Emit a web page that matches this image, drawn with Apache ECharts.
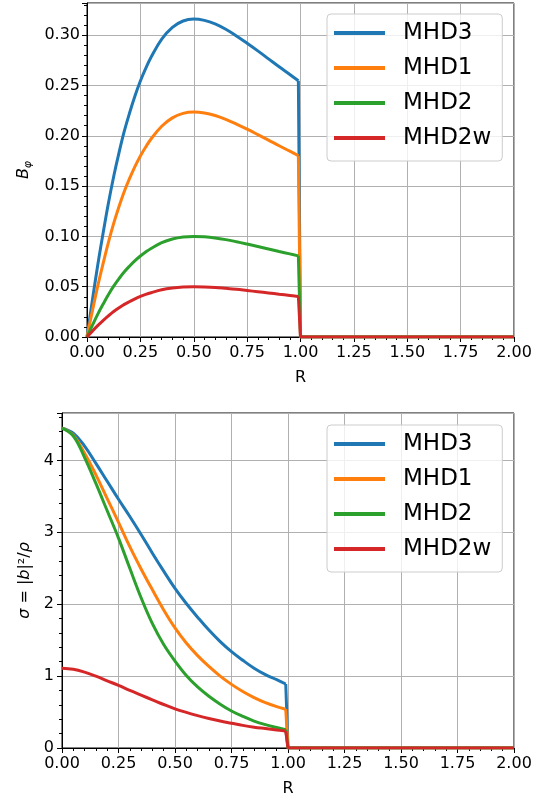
<!DOCTYPE html>
<html>
<head>
<meta charset="utf-8">
<script src="https://cdn.jsdelivr.net/npm/echarts@6/dist/echarts.min.js"></script>
<style>
html,body{margin:0;padding:0;background:#fff;}
#chart{width:548px;height:800px;}
</style>
</head>
<body>
<div id="chart"></div>
<script>
// radius samples, top panel (B_phi)
var rTop = [0,0.025,0.05,0.075,0.1,0.125,0.15,0.175,0.2,0.225,0.25,0.275,0.3,0.35,0.4,0.45,0.5,0.55,0.6,0.65,0.7,0.75,0.8,0.85,0.9,0.95,0.99,1.0,2.0];
var bMHD3 = [0,0.0363,0.0711,0.1027,0.1327,0.1596,0.1833,0.2048,0.2231,0.2398,0.2544,0.267,0.2781,0.2961,0.3078,0.3141,0.316,0.3147,0.3113,0.3059,0.2993,0.292,0.2844,0.2765,0.2686,0.261,0.2547,0,0];
var bMHD1 = [0,0.0257,0.0503,0.0727,0.0939,0.1129,0.1297,0.1449,0.1579,0.1697,0.18,0.1889,0.1968,0.2095,0.2178,0.2223,0.2236,0.2227,0.2202,0.2164,0.2117,0.2066,0.2012,0.1957,0.1901,0.1847,0.1802,0,0];
var bMHD2 = [0,0.0115,0.0225,0.0325,0.042,0.0505,0.058,0.0648,0.0706,0.0759,0.0805,0.0845,0.088,0.0937,0.0974,0.0994,0.1,0.0996,0.0985,0.0968,0.0947,0.0924,0.09,0.0875,0.085,0.0826,0.0806,0,0];
var bMHD2w = [0,0.0058,0.0113,0.0163,0.021,0.0253,0.029,0.0324,0.0353,0.038,0.0403,0.0423,0.044,0.0469,0.0487,0.0497,0.05,0.0498,0.0493,0.0484,0.0474,0.0462,0.045,0.0438,0.0425,0.0413,0.0403,0,0];

// radius samples, bottom panel (sigma)
var rBot = [0,0.05,0.1,0.15,0.2,0.25,0.3,0.35,0.4,0.45,0.5,0.55,0.6,0.65,0.7,0.75,0.8,0.85,0.9,0.95,0.99,1.0,2.0];
var sMHD3 = [4.45,4.38,4.2,3.96,3.71,3.46,3.22,2.97,2.71,2.46,2.22,2.01,1.82,1.64,1.48,1.34,1.22,1.11,1.02,0.95,0.89,0,0];
var sMHD1 = [4.45,4.35,4.1,3.8,3.47,3.14,2.8,2.49,2.2,1.92,1.67,1.46,1.285,1.135,1.0,0.885,0.785,0.7,0.63,0.575,0.54,0,0];
var sMHD2 = [4.45,4.34,4.04,3.68,3.3,2.92,2.5,2.09,1.73,1.44,1.21,1.01,0.85,0.72,0.61,0.515,0.44,0.375,0.325,0.285,0.255,0,0];
var sMHD2w = [1.11,1.095,1.055,1.0,0.935,0.87,0.8,0.735,0.67,0.605,0.545,0.495,0.45,0.41,0.375,0.345,0.315,0.29,0.27,0.25,0.235,0,0];

var names = ['MHD3','MHD1','MHD2','MHD2w'];
var colors = ['#1f77b4','#ff7f0e','#2ca02c','#d62728'];
var xTicks = ['0.00','0.25','0.50','0.75','1.00','1.25','1.50','1.75','2.00'];

var font = 'DejaVu Sans';

function pairs(xs, ys){
	var out = [];
	for(var i=0;i<xs.length;i++){
		out.push([xs[i], ys[i]]);
	}
	return out;
}

function xAxisFor(idx){
	return {
		type:'value', gridIndex:idx, min:0, max:2, interval:0.25,
		name:'R', nameLocation:'middle', nameGap:33,
		nameTextStyle:{fontFamily:font, fontSize:16, color:'#000'},
		axisLine:{show:true, onZero:false, lineStyle:{color:'#000', width:1}},
		axisTick:{show:true, length:5, lineStyle:{color:'#000'}},
		minorTick:{show:true, splitNumber:5, length:3, lineStyle:{color:'#000'}},
		axisLabel:{fontFamily:font, fontSize:16, color:'#000', margin:8,
			formatter:function(v){ return xTicks[Math.round(v/0.25)]; }},
		splitLine:{show:true, lineStyle:{color:'#b0b0b0', width:1}}
	};
}

// each profile: smooth body up to the edge, then a straight drop + flat tail (same name -> one legend entry)
var series = [];
function addProfile(axisIdx, xs, ys, k){
	var n = xs.length;
	series.push({
		name:names[k], type:'line', xAxisIndex:axisIdx, yAxisIndex:axisIdx,
		data:pairs(xs.slice(0, n-2), ys.slice(0, n-2)), smooth:0.4, showSymbol:false, symbol:'none',
		lineStyle:{color:colors[k], width:3}, itemStyle:{color:colors[k]}
	});
	series.push({
		name:names[k], type:'line', xAxisIndex:axisIdx, yAxisIndex:axisIdx,
		data:pairs(xs.slice(n-3), ys.slice(n-3)), showSymbol:false, symbol:'none',
		lineStyle:{color:colors[k], width:3}, itemStyle:{color:colors[k]}
	});
}
var topData = [bMHD3, bMHD1, bMHD2, bMHD2w];
var botData = [sMHD3, sMHD1, sMHD2, sMHD2w];
for(var k=0;k<4;k++){
	addProfile(0, rTop, topData[k], k);
}
for(var k=0;k<4;k++){
	addProfile(1, rBot, botData[k], k);
}

function legendAt(top){
	return {
		orient:'vertical', left:327, top:top,
		data:names, icon:'rect', itemWidth:51, itemHeight:4, itemGap:7,
		padding:[5,11,9,7],
		backgroundColor:'rgba(255,255,255,0.8)', borderColor:'#cccccc', borderWidth:1, borderRadius:4,
		selectedMode:false,
		textStyle:{fontFamily:font, fontSize:23, color:'#000', lineHeight:28, padding:[0,0,0,13]}
	};
}

var chart = echarts.init(document.getElementById('chart'));
var option = {
	animation:false,
	backgroundColor:'#fff',
	legend:[legendAt(14), legendAt(425)],
	grid:[
		{left:87, right:34, top:3, height:334, show:true, borderColor:'#000', borderWidth:1, backgroundColor:'transparent'},
		{left:62, right:34, top:413, height:335, show:true, borderColor:'#000', borderWidth:1, backgroundColor:'transparent'}
	],
	xAxis:[xAxisFor(0), xAxisFor(1)],
	yAxis:[
		{
			type:'value', gridIndex:0, min:0, max:0.332, interval:0.05,
			name:'{i|B}{s|φ}', nameLocation:'middle', nameGap:53, nameRotate:90,
			nameTextStyle:{fontFamily:font, color:'#000',
				rich:{i:{fontFamily:font, fontSize:16, fontStyle:'italic', color:'#000'},
					s:{fontFamily:font, fontSize:11, fontStyle:'italic', color:'#000', padding:[9,0,0,0]}}},
			axisLine:{show:true, lineStyle:{color:'#000', width:1}},
			axisTick:{show:true, length:5, lineStyle:{color:'#000'}},
			minorTick:{show:true, splitNumber:5, length:3, lineStyle:{color:'#000'}},
			axisLabel:{fontFamily:font, fontSize:16, color:'#000', margin:7,
				formatter:function(v){ return v > 0.31 ? '' : v.toFixed(2); }},
			splitLine:{show:true, lineStyle:{color:'#b0b0b0', width:1}}
		},
		{
			type:'value', gridIndex:1, min:0, max:4.66, interval:1,
			name:'{i|σ} = |{i|b}|²/{i|ρ}', nameLocation:'middle', nameGap:28, nameRotate:90,
			nameTextStyle:{fontFamily:font, fontSize:16, color:'#000',
				rich:{i:{fontFamily:font, fontSize:16, fontStyle:'italic', color:'#000'}}},
			axisLine:{show:true, lineStyle:{color:'#000', width:1}},
			axisTick:{show:true, length:5, lineStyle:{color:'#000'}},
			minorTick:{show:true, splitNumber:5, length:3, lineStyle:{color:'#000'}},
			axisLabel:{fontFamily:font, fontSize:16, color:'#000', margin:8,
				formatter:function(v){ return v > 4.5 ? '' : String(v); }},
			splitLine:{show:true, lineStyle:{color:'#b0b0b0', width:1}}
		}
	],
	series:series
};
chart.setOption(option, true);
</script>
</body>
</html>
